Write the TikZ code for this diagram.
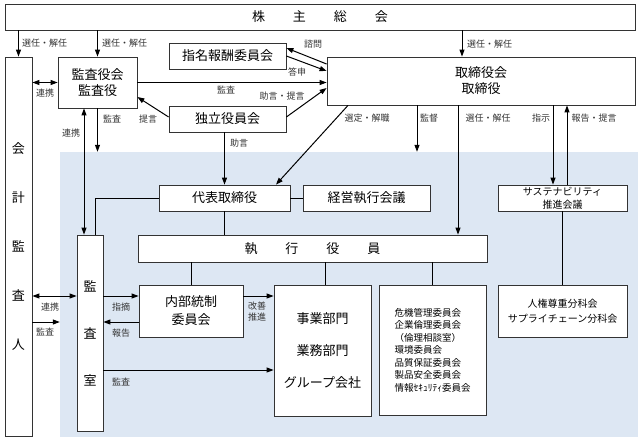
\documentclass[tikz,border=0pt]{standalone}
\usepackage{fontspec}
\setmainfont{Noto Sans CJK JP}
\usetikzlibrary{arrows.meta}
\definecolor{areablue}{RGB}{221,231,243}

\begin{document}
\begin{tikzpicture}[x=1pt, y=-1pt,
  box/.style={draw=black!80, fill=white, line width=0.8pt, inner sep=0pt,
              align=center, font=\fontsize{13}{16}\selectfont},
  lbl/.style={font=\fontsize{9}{11}\selectfont, text=black!80, inner sep=1pt},
  arr/.style={line width=1pt, -{Triangle[length=7pt,width=5pt]}},
  dbl/.style={line width=1pt, {Triangle[length=7pt,width=5pt]}-{Triangle[length=7pt,width=5pt]}},
  con/.style={line width=1pt}]
  \useasboundingbox (0,0) rectangle (643,442);

  % Executive area (blue)
  \node[fill=areablue, inner sep=0pt, minimum width=578pt, minimum height=285pt]
        (area) at (349,294.5) {};

  % Top level
  \node[box, minimum width=630pt, minimum height=26pt] (kabu) at (320,17)
        {株\hspace{28pt}主\hspace{28pt}総\hspace{28pt}会};
  \node[box, minimum width=27pt, minimum height=379pt,
        font=\fontsize{13}{49}\selectfont] (kaikei) at (18.5,246.5)
        {会\\計\\監\\査\\人};
  \node[box, minimum width=79pt, minimum height=51pt] (kansayaku) at (97.5,82.5)
        {監査役会\\監査役};
  \node[box, minimum width=117pt, minimum height=26pt] (shimei) at (227.5,56)
        {指名報酬委員会};
  \node[box, minimum width=117pt, minimum height=26pt] (dokuritsu) at (227.5,119)
        {独立役員会};
  \node[box, minimum width=308pt, minimum height=48pt] (torishimari) at (481,81)
        {取締役会\\取締役};

  % Inside the executive area
  \node[box, minimum width=131pt, minimum height=26pt] (daihyo) at (224.5,198)
        {代表取締役};
  \node[box, minimum width=127pt, minimum height=26pt] (keiei) at (366.5,198)
        {経営執行会議};
  \node[box, minimum width=129pt, minimum height=26pt,
        font=\fontsize{10}{13}\selectfont] (suishin) at (562.5,198)
        {サステナビリティ\\推進会議};
  \node[box, minimum width=349pt, minimum height=27pt] (shikko) at (312.5,248.5)
        {執\hspace{28pt}行\hspace{28pt}役\hspace{28pt}員};
  \node[box, minimum width=26pt, minimum height=196pt,
        font=\fontsize{13}{47}\selectfont] (kansashitsu) at (90,333)
        {監\\査\\室};
  \node[box, minimum width=104pt, minimum height=52pt,
        font=\fontsize{13}{18}\selectfont] (naibu) at (191,311)
        {内部統制\\委員会};
  \node[box, minimum width=97pt, minimum height=131pt,
        font=\fontsize{13}{32}\selectfont] (jigyo) at (322.5,350.5)
        {事業部門\\業務部門\\グループ会社};
  \node[box, minimum width=107pt, minimum height=130pt, align=left,
        font=\fontsize{9.5}{12.5}\selectfont] (kiki) at (432.5,350)
        {危機管理委員会\\企業倫理委員会\\（倫理相談室）\\環境委員会\\
         品質保証委員会\\製品安全委員会\\情報ｾｷｭﾘﾃｨ委員会};
  \node[box, minimum width=129pt, minimum height=52pt,
        font=\fontsize{10}{15}\selectfont] (jinken) at (562.5,311)
        {人権尊重分科会\\サプライチェーン分科会};

  % Shareholders -> appointments
  \draw[arr] (kabu.south -| kaikei) -- (kaikei.north);
  \draw[arr] (kabu.south -| kansayaku) -- (kansayaku.north);
  \draw[arr] (kabu.south -| 462,0) -- (torishimari.north -| 462,0);
  \node[lbl, right] (l1) at (21,43) {選任・解任};
  \node[lbl, right] (l2) at (101,43) {選任・解任};
  \node[lbl, right] (l3) at (466,44) {選任・解任};

  % Audit board links
  \draw[dbl] (kaikei.east |- kansayaku) -- (kansayaku.west);
  \node[lbl] (l4) at (45,93) {連携};
  \draw[arr] (kansayaku.east) -- (kansayaku.east -| torishimari.west);
  \node[lbl] (l5) at (226,90) {監査};
  \draw[arr] (kansayaku.south) -- (kansayaku.south |- area.north);
  \node[lbl] (l6) at (112,119) {監査};
  \draw[dbl] (kansayaku.south -| 84,0) -- (kansashitsu.north -| 84,0);
  \node[lbl] (l7) at (71,133) {連携};

  % Committees -> board
  \draw[arr] (torishimari.west |- 0,64) -- (shimei.east |- 0,48);
  \node[lbl, right] (l8) at (303,44) {諮問};
  \draw[arr] (shimei.east) -- (torishimari.west |- 0,71);
  \node[lbl, right] (l9) at (287,72) {答申};
  \draw[arr] (dokuritsu.east |- 0,117) -- (torishimari.west |- 0,88);
  \node[lbl] (l10) at (282,96) {助言・提言};
  \draw[arr] (dokuritsu.west |- 0,117) -- (kansayaku.east |- 0,97);
  \node[lbl] (l11) at (148,119) {提言};
  \draw[arr] (dokuritsu.south -| daihyo.north) -- (daihyo.north);
  \node[lbl] (l12) at (239,143) {助言};

  % Board -> executive side
  \draw[arr] (torishimari.south -| 348,0) -- (daihyo.north -| 276,0);
  \node[lbl] (l13) at (367,118) {選定・解職};
  \draw[arr] (torishimari.south -| 417,0) -- (area.north -| 417,0);
  \node[lbl] (l14) at (429,118) {監督};
  \draw[arr] (torishimari.south -| 458,0) -- (shikko.north -| 458,0);
  \node[lbl] (l15) at (488,118) {選任・解任};
  \draw[arr] (torishimari.south -| 553,0) -- (suishin.north -| 553,0);
  \node[lbl] (l16) at (541,118) {指示};
  \draw[arr] (suishin.north -| 567,0) -- (torishimari.south -| 567,0);
  \node[lbl] (l17) at (594,118) {報告・提言};

  % Executive structure
  \draw[con] (daihyo.east) -- (keiei.west);
  \draw[con] (daihyo.west) -| (kansashitsu.north -| 95,0);
  \draw[con] (daihyo.south) -- (daihyo.south |- shikko.north);
  \draw[con] (shikko.south -| naibu) -- (naibu.north);
  \draw[con] (shikko.south -| 325,0) -- (jigyo.north -| 325,0);
  \draw[con] (shikko.south -| kiki) -- (kiki.north);
  \draw[con] (suishin.south) -- (jinken.north);

  % Internal audit links
  \draw[dbl] (kaikei.east |- 0,296) -- (kansashitsu.west |- 0,296);
  \node[lbl] (l18) at (50,307) {連携};
  \draw[arr] (kaikei.east |- 0,322) -- (area.west |- 0,322);
  \node[lbl] (l19) at (45,332) {監査};
  \draw[arr] (kansashitsu.east |- 0,296) -- (naibu.west |- 0,296);
  \node[lbl] (l20) at (121,307) {指摘};
  \draw[arr] (naibu.west |- 0,322) -- (kansashitsu.east |- 0,322);
  \node[lbl] (l21) at (121,333) {報告};
  \draw[arr] (naibu.east |- 0,296) -- (jigyo.west |- 0,296);
  \node[lbl, align=center, font=\fontsize{9}{11}\selectfont] (l22) at (257,312) {改善\\推進};
  \draw[arr] (kansashitsu.east |- 0,370) -- (jigyo.west |- 0,370);
  \node[lbl] (l23) at (121,382) {監査};
\end{tikzpicture}
\end{document}
